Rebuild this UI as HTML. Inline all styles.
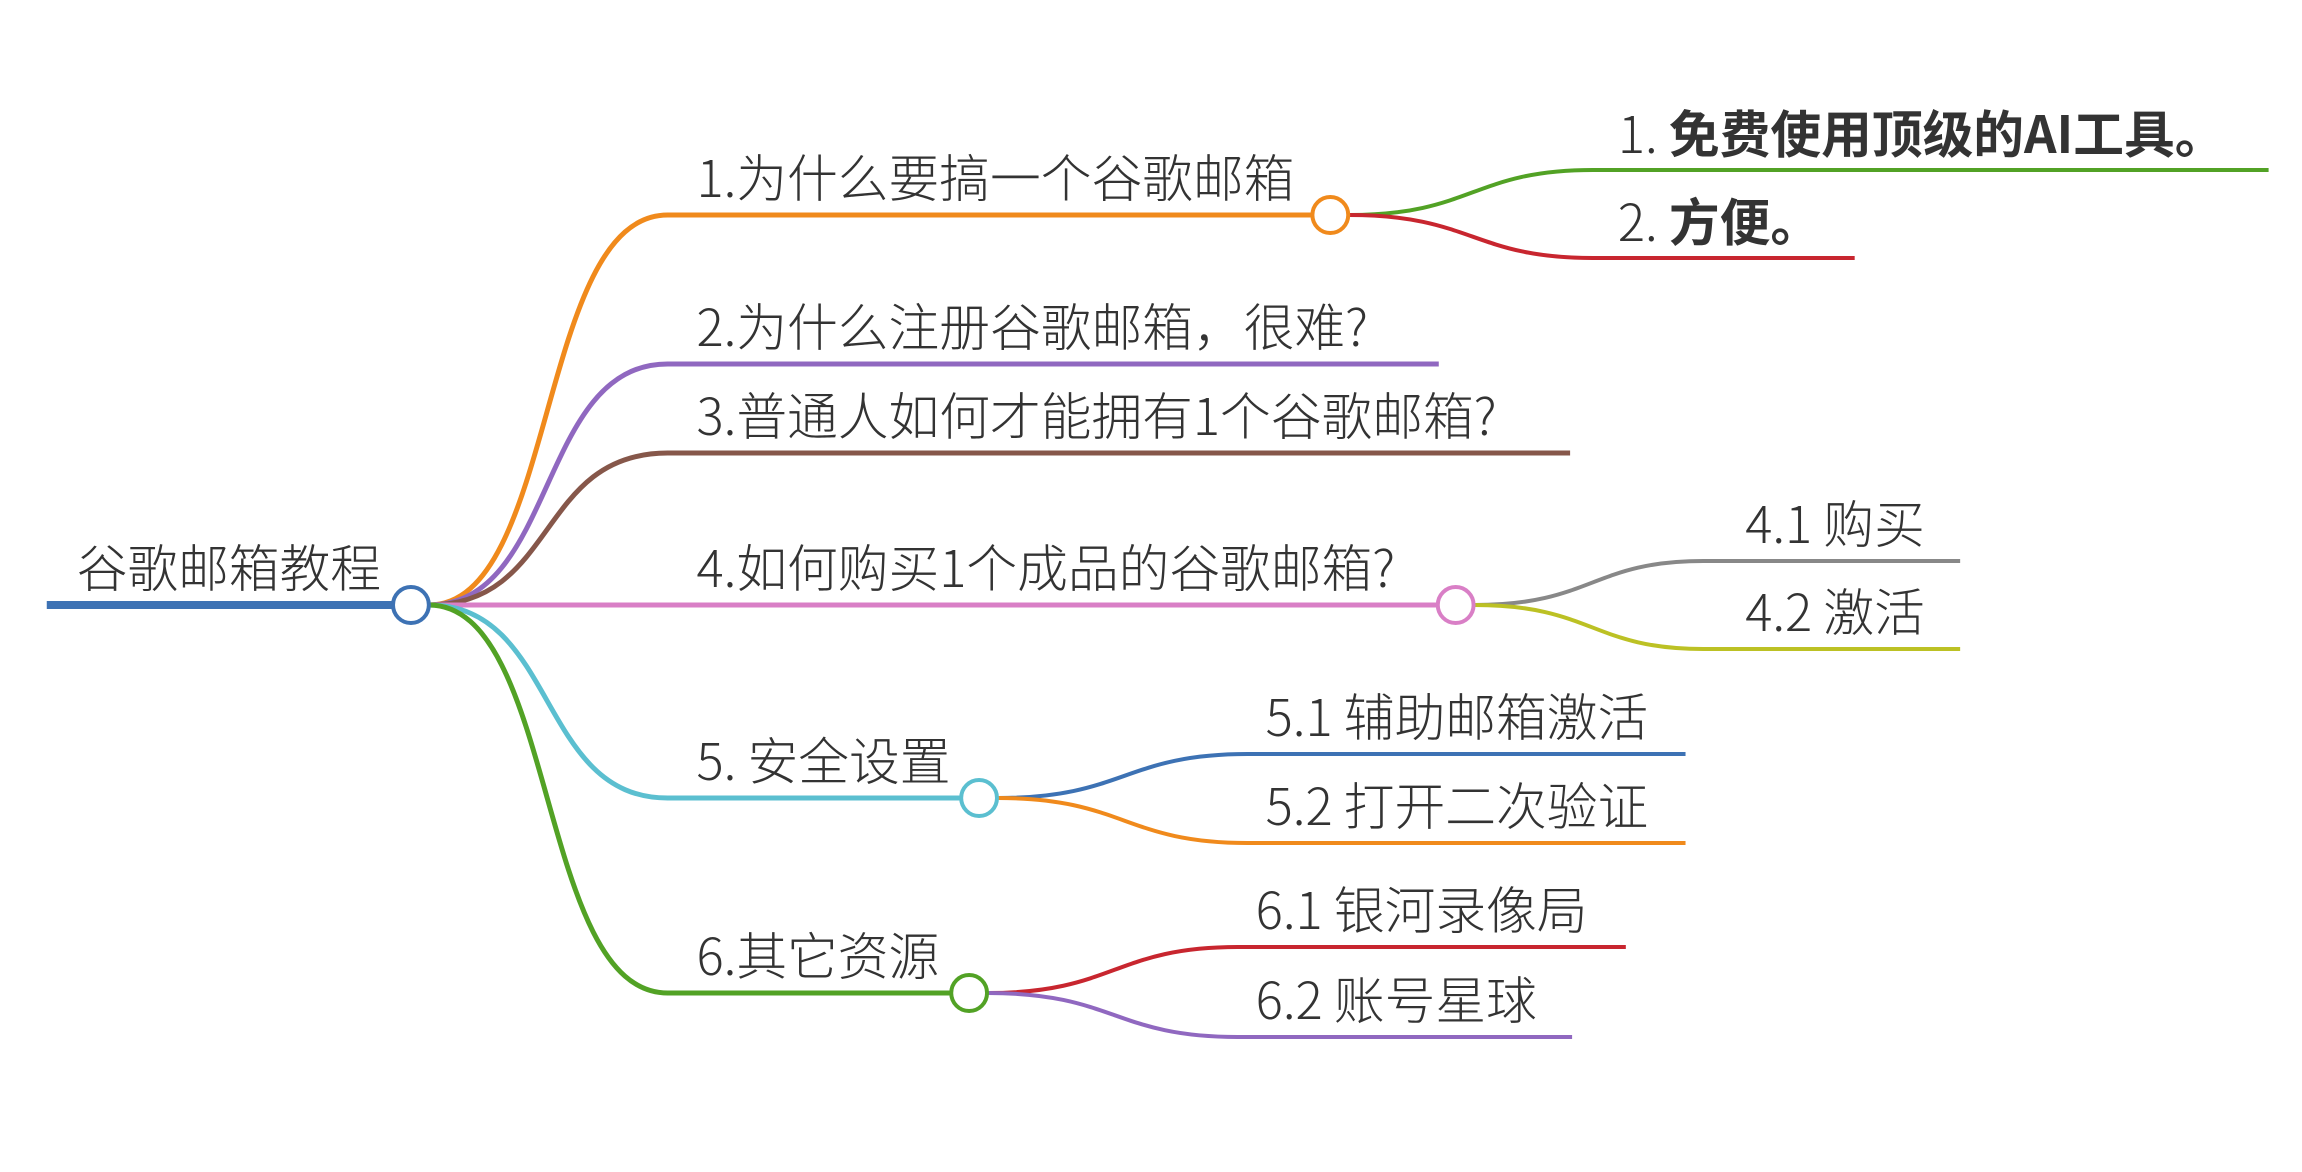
<!DOCTYPE html>
<html><head><meta charset="utf-8"><style>
html,body{margin:0;padding:0;background:#fff;}
svg{display:block;}
text{font-family:"Noto Sans CJK SC","Liberation Sans",sans-serif;font-size:51px;fill:#333;font-weight:300;}
</style></head><body>
<svg width="2302" height="1172" viewBox="0 0 2302 1172" xmlns="http://www.w3.org/2000/svg">
<g transform="scale(0.995,1)">
<g fill="none" stroke-linecap="butt">
<line x1="47" y1="605" x2="395" y2="605" stroke="#3d72b4" stroke-width="8"/>
<path d="M431,605 C560,605 540,215 671,215 L1318,215" stroke="#f08a1c" stroke-width="5"/>
<path d="M431,605 C560,605 540,364 671,364 L1446,364" stroke="#9068c0" stroke-width="5"/>
<path d="M431,605 C560,605 540,453 671,453 L1578,453" stroke="#86574a" stroke-width="5"/>
<path d="M431,605 L1444,605" stroke="#d97fc6" stroke-width="5"/>
<path d="M431,605 C560,605 540,798 671,798 L965,798" stroke="#5bbfd0" stroke-width="5"/>
<path d="M431,605 C560,605 540,993 671,993 L955,993" stroke="#52a225" stroke-width="5"/>
<path d="M1356,215 C1480,215 1480,170 1601,170 L2280,170" stroke="#52a225" stroke-width="4"/>
<path d="M1356,215 C1480,215 1480,258 1601,258 L1864,258" stroke="#c8262f" stroke-width="4"/>
<path d="M1482,605 C1600,605 1600,561 1712,561 L1970,561" stroke="#888888" stroke-width="4"/>
<path d="M1482,605 C1600,605 1600,649 1712,649 L1970,649" stroke="#bcc124" stroke-width="4"/>
<path d="M1003,798 C1130,798 1130,754 1254,754 L1694,754" stroke="#3d72b4" stroke-width="4"/>
<path d="M1003,798 C1130,798 1130,843 1254,843 L1694,843" stroke="#f08a1c" stroke-width="4"/>
<path d="M993,993 C1120,993 1120,947 1244,947 L1634,947" stroke="#c8262f" stroke-width="4"/>
<path d="M993,993 C1120,993 1120,1037 1244,1037 L1580,1037" stroke="#9068c0" stroke-width="4"/>
<circle cx="413" cy="605" r="18" fill="#fff" stroke="#3d72b4" stroke-width="4"/>
<circle cx="1337" cy="215" r="18" fill="#fff" stroke="#f08a1c" stroke-width="4"/>
<circle cx="1463" cy="605" r="18" fill="#fff" stroke="#d97fc6" stroke-width="4"/>
<circle cx="984" cy="798" r="18" fill="#fff" stroke="#5bbfd0" stroke-width="4"/>
<circle cx="974" cy="993" r="18" fill="#fff" stroke="#52a225" stroke-width="4"/>
</g>
<text x="77" y="587">谷歌邮箱教程</text>
<text x="700" y="197">1.为什么要搞一个谷歌邮箱</text>
<text x="700" y="346">2.为什么注册谷歌邮箱，很难?</text>
<text x="700" y="435">3.普通人如何才能拥有1个谷歌邮箱?</text>
<text x="700" y="587">4.如何购买1个成品的谷歌邮箱?</text>
<text x="700" y="780">5. 安全设置</text>
<text x="700" y="975">6.其它资源</text>
<text x="1626" y="153">1. <tspan font-weight="bold">免费使用顶级的AI工具。</tspan></text>
<text x="1626" y="241">2. <tspan font-weight="bold">方便。</tspan></text>
<text x="1754" y="543">4.1 购买</text>
<text x="1754" y="631">4.2 激活</text>
<text x="1272" y="736">5.1 辅助邮箱激活</text>
<text x="1272" y="825">5.2 打开二次验证</text>
<text x="1262" y="929">6.1 银河录像局</text>
<text x="1262" y="1019">6.2 账号星球</text>
</g>
</svg>
</body></html>
